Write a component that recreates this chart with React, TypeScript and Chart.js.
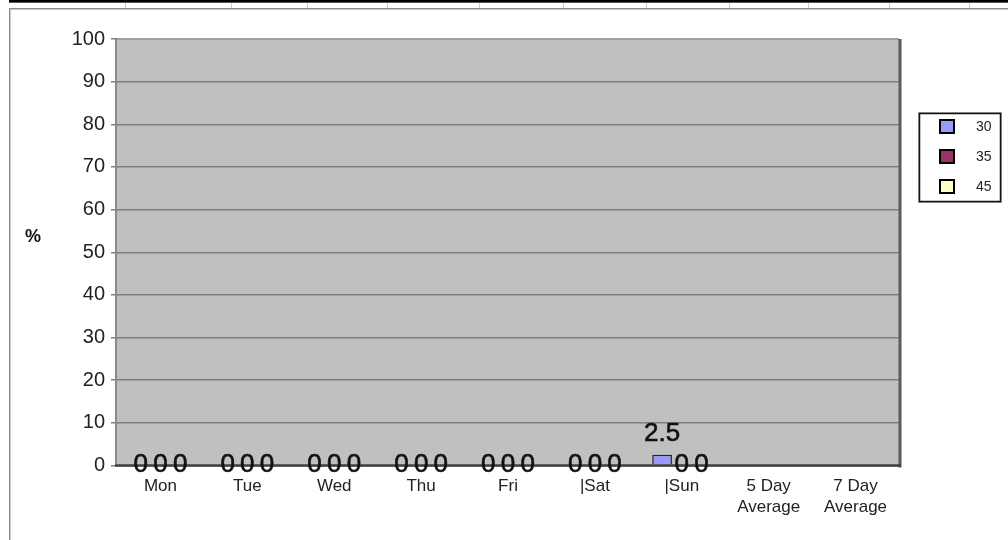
import React, { useEffect, useRef } from 'react';
import { Chart, registerables } from 'chart.js';

Chart.register(...registerables);

const categories: (string | string[])[] = ['Mon', 'Tue', 'Wed', 'Thu', 'Fri', '|Sat', '|Sun', ['5 Day', 'Average'], ['7 Day', 'Average']];
const seriesNames = ['30', '35', '45'];
const series30 = [0, 0, 0, 0, 0, 0, 2.5, null, null];
const series35 = [0, 0, 0, 0, 0, 0, 0, null, null];
const series45 = [0, 0, 0, 0, 0, 0, 0, null, null];
const seriesColors = ['#9999ff', '#993366', '#ffffcc'];
const yMin = 0;
const yMax = 100;
const yStep = 10;
const yAxisTitle = '%';

const FONT = '"Liberation Sans", Arial, sans-serif';

const plotBg = {
  id: 'plotBg',
  beforeDraw(chart: any) {
    const { ctx, chartArea: a } = chart;
    ctx.save();
    ctx.fillStyle = '#c0c0c0';
    ctx.fillRect(a.left, a.top, a.right - a.left, a.bottom - a.top);
    ctx.restore();
  },
};

const frameAndLabels = {
  id: 'frameAndLabels',
  afterDatasetsDraw(chart: any) {
    const { ctx, chartArea: a } = chart;
    ctx.save();
    ctx.lineWidth = 1;
    ctx.strokeStyle = '#a0a0a0';
    ctx.beginPath();
    ctx.moveTo(a.left, a.top - 0.5);
    ctx.lineTo(a.right, a.top - 0.5);
    ctx.stroke();
    ctx.lineWidth = 2;
    ctx.strokeStyle = '#8a8a8a';
    ctx.beginPath();
    ctx.moveTo(a.left - 1, a.top);
    ctx.lineTo(a.left - 1, a.bottom);
    ctx.stroke();
    ctx.lineWidth = 3;
    ctx.strokeStyle = '#5a5a5a';
    ctx.beginPath();
    ctx.moveTo(a.right + 1, a.top);
    ctx.lineTo(a.right + 1, a.bottom + 2);
    ctx.stroke();
    ctx.lineWidth = 2.5;
    ctx.strokeStyle = '#404040';
    ctx.beginPath();
    ctx.moveTo(a.left - 2, a.bottom);
    ctx.lineTo(a.right + 2, a.bottom);
    ctx.stroke();

    ctx.font = '26px ' + FONT;
    ctx.fillStyle = '#111';
    ctx.strokeStyle = '#111';
    ctx.lineWidth = 0.6;
    ctx.textAlign = 'center';
    ctx.textBaseline = 'alphabetic';
    chart.data.datasets.forEach((ds: any, i: number) => {
      const meta = chart.getDatasetMeta(i);
      meta.data.forEach((el: any, j: number) => {
        const v = ds.data[j];
        if (v == null) return;
        const { x, y, base } = el.getProps(['x', 'y', 'base'], true);
        const ty = v === 0 ? base + 6 : y - 14;
        ctx.fillText(String(v), x, ty);
        ctx.strokeText(String(v), x, ty);
      });
    });
    ctx.restore();
  },
};

const legendAndTitle = {
  id: 'legendAndTitle',
  afterDraw(chart: any) {
    const { ctx } = chart;
    ctx.save();
    ctx.font = 'bold 18px ' + FONT;
    ctx.fillStyle = '#111';
    ctx.textAlign = 'center';
    ctx.textBaseline = 'middle';
    ctx.fillText(yAxisTitle, 33, 237);

    const bx = 918, by = 112, bw = 83, bh = 90;
    ctx.strokeStyle = '#aaa';
    ctx.lineWidth = 1;
    ctx.strokeRect(bx + 0.5, by + 0.5, bw, bh);
    ctx.strokeStyle = '#111';
    ctx.lineWidth = 1.5;
    ctx.strokeRect(bx + 1.5, by + 1.5, bw - 2, bh - 2);

    ctx.font = '14px ' + FONT;
    ctx.textAlign = 'left';
    ctx.textBaseline = 'middle';
    chart.data.datasets.forEach((ds: any, i: number) => {
      const cy = 127 + i * 30;
      ctx.fillStyle = ds.backgroundColor;
      ctx.fillRect(940, cy - 7, 14, 13);
      ctx.strokeStyle = '#000';
      ctx.lineWidth = 2;
      ctx.strokeRect(940, cy - 7, 14, 13);
      ctx.fillStyle = '#222';
      ctx.fillText(ds.label, 976, cy);
    });
    ctx.restore();
  },
};

export default function App() {
  const ref = useRef<HTMLCanvasElement | null>(null);

  useEffect(() => {
    if (!ref.current) return;
    const seriesData = [series30, series35, series45];
    const chart = new Chart(ref.current, {
      type: 'bar',
      data: {
        labels: categories as any,
        datasets: seriesNames.map((name, i) => ({
          label: name,
          data: seriesData[i] as any,
          backgroundColor: seriesColors[i],
          borderColor: '#222',
          borderWidth: 1.5,
          categoryPercentage: 0.68,
          barPercentage: 1,
        })),
      },
      options: {
        animation: false,
        responsive: false,
        devicePixelRatio: 1,
        layout: { padding: { left: 0, top: 39, right: 109, bottom: 14.5 } },
        plugins: {
          legend: { display: false },
          tooltip: { enabled: false },
        },
        scales: {
          x: {
            grid: { display: false },
            border: { display: false },
            ticks: {
              font: { family: FONT, size: 17, lineHeight: 1.2 },
              color: '#222',
              padding: 3,
              maxRotation: 0,
              autoSkip: false,
            },
            afterFit: (s: any) => {
              s.height = 60;
            },
          },
          y: {
            min: yMin,
            max: yMax,
            ticks: {
              stepSize: yStep,
              font: { family: FONT, size: 20 },
              color: '#222',
              padding: 6,
            },
            grid: {
              color: '#7f7f7f',
              lineWidth: 1.5,
              tickLength: 6,
              drawTicks: true,
            },
            border: { display: false },
            afterFit: (s: any) => {
              s.width = 117;
            },
          },
        },
      },
      plugins: [plotBg, frameAndLabels, legendAndTitle],
    });
    return () => chart.destroy();
  }, []);

  const ticksX = [125, 231, 307, 387, 479, 563, 646, 729, 808, 889, 969];

  return (
    <div style={{ position: 'absolute', left: 0, top: 0, width: 1008, height: 540, background: '#fff', overflow: 'hidden' }}>
      <div style={{ position: 'absolute', left: 9, top: 0, width: 999, height: 2, background: '#000' }} />
      <div style={{ position: 'absolute', left: 9, top: 2, width: 999, height: 1, background: '#555' }} />
      {ticksX.map((x) => (
        <div key={x} style={{ position: 'absolute', left: x, top: 3, width: 1, height: 5, background: '#c8c8c8' }} />
      ))}
      <div style={{ position: 'absolute', left: 9, top: 8, width: 999, height: 1, background: '#8a8a8a' }} />
      <div style={{ position: 'absolute', left: 9, top: 9, width: 999, height: 1, background: '#c8c8c8' }} />
      <div style={{ position: 'absolute', left: 9, top: 8, width: 1, height: 532, background: '#8a8a8a' }} />
      <div style={{ position: 'absolute', left: 10, top: 9, width: 1, height: 531, background: '#c8c8c8' }} />
      <canvas ref={ref} width={1008} height={540} style={{ position: 'absolute', left: 0, top: 0, width: 1008, height: 540 }} />
    </div>
  );
}
